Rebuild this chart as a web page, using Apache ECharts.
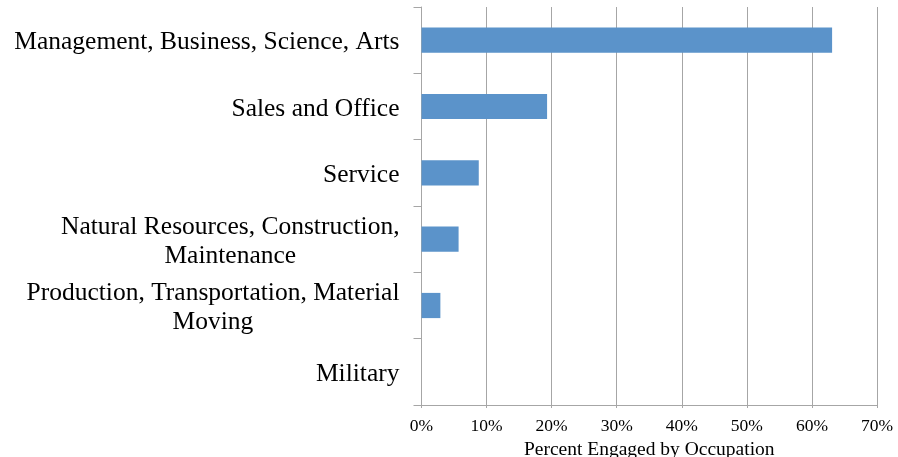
<!DOCTYPE html>
<html>
<head>
<meta charset="utf-8">
<script src="https://cdn.jsdelivr.net/npm/echarts@6/dist/echarts.min.js"></script>
<style>
  html, body { margin: 0; padding: 0; background: #ffffff; }
  #chart { width: 898px; height: 457px; }
</style>
</head>
<body>
<div id="chart"></div>
<script>
// Occupation groups, listed top to bottom
const categories = [
  'Management, Business, Science, Arts',
  'Sales and Office',
  'Service',
  'Natural Resources, Construction,\nMaintenance',
  'Production, Transportation, Material\nMoving',
  'Military'
];
// Share engaged in each occupation group (percent)
const percentEngaged = [63.1, 19.3, 8.8, 5.7, 2.9, 0];
// Value axis ticks (percent)
const tickValues = [0, 10, 20, 30, 40, 50, 60, 70];

const FONT = '"Liberation Serif", "DejaVu Serif", serif';
const GRID_GRAY = '#a6a6a6';

const chart = echarts.init(document.getElementById('chart'), null, { renderer: 'canvas' });

chart.setOption({
  animation: false,
  backgroundColor: '#ffffff',
  grid: {
    left: 421.5, right: 21, top: 7, bottom: 52,
    containLabel: false,
    outerBoundsMode: 'none'
  },
  xAxis: {
    type: 'value',
    min: tickValues[0],
    max: tickValues[tickValues.length - 1],
    interval: 10,
    name: 'Percent Engaged by Occupation',
    nameLocation: 'middle',
    nameGap: 35,
    nameTextStyle: { fontFamily: FONT, fontSize: 19.5, color: '#000' },
    axisLine: { show: true, lineStyle: { color: GRID_GRAY, width: 1 } },
    axisTick: { show: true, length: 3, lineStyle: { color: GRID_GRAY } },
    axisLabel: {
      fontFamily: FONT, fontSize: 17.5, color: '#000', margin: 12,
      formatter: v => v + '%'
    },
    splitLine: { show: true, lineStyle: { color: GRID_GRAY, width: 1 } }
  },
  yAxis: {
    type: 'category',
    inverse: true,
    data: categories,
    axisLine: { show: true, lineStyle: { color: GRID_GRAY, width: 1 } },
    axisTick: { show: true, length: 8, lineStyle: { color: GRID_GRAY } },
    axisLabel: {
      margin: 22,
      color: '#000',
      fontFamily: FONT,
      fontSize: 25.5,
      lineHeight: 29,
      padding: [5, 0, 0, 0],
      formatter: v => v.split('\n').map(s => '{c|' + s + '}').join('\n'),
      rich: {
        c: { fontFamily: FONT, fontSize: 25.5, lineHeight: 29, color: '#000', align: 'center' }
      }
    },
    splitLine: { show: false }
  },
  series: [{
    type: 'bar',
    data: percentEngaged,
    barCategoryGap: '62%',
    itemStyle: { color: '#5b93ca' }
  }]
});
</script>
</body>
</html>
